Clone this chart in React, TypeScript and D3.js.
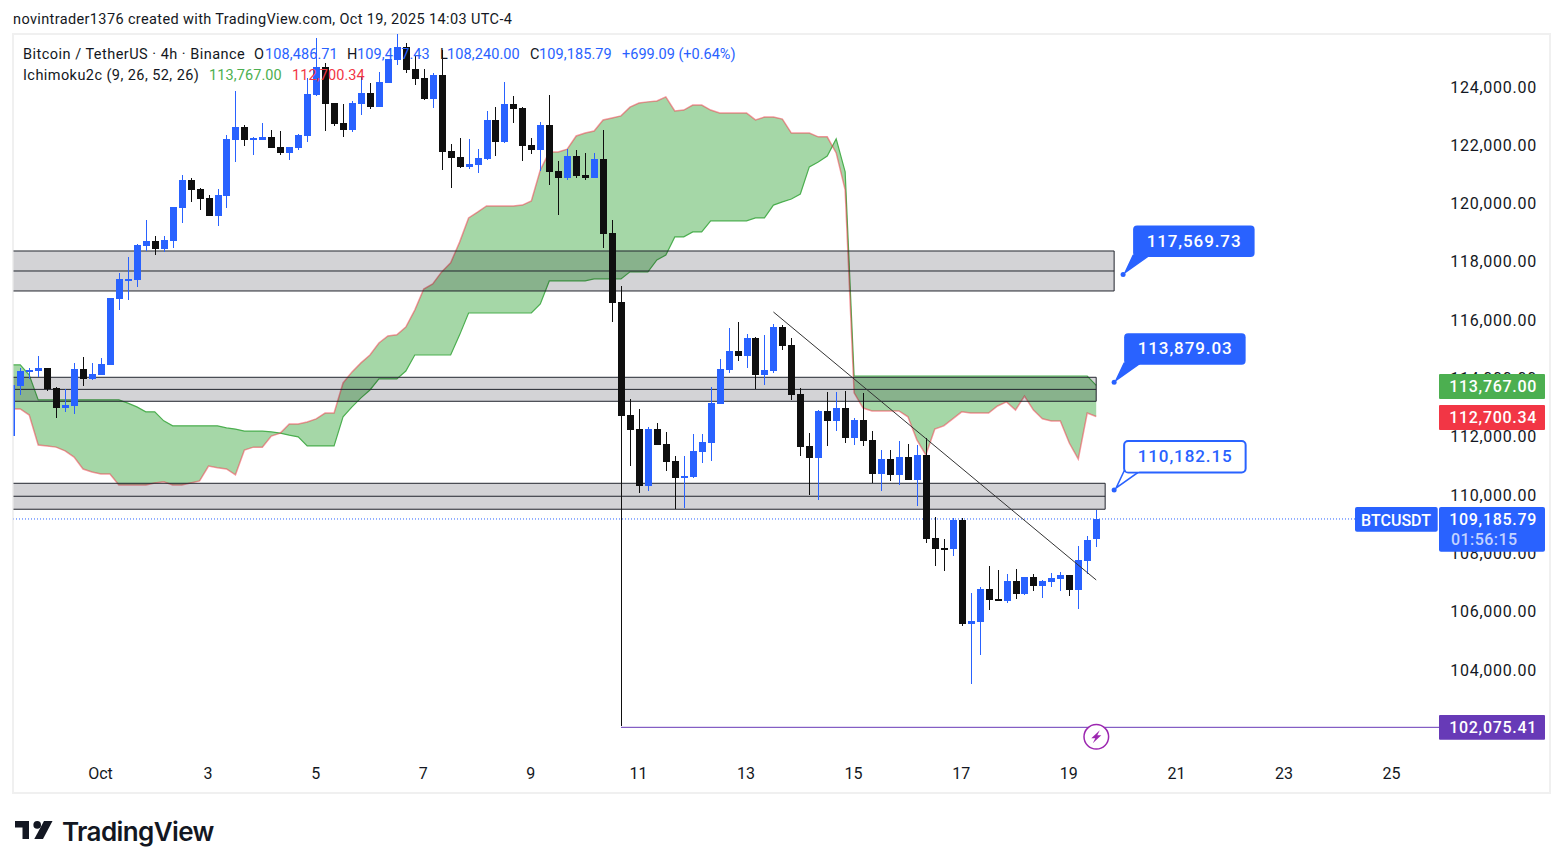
import React from 'react';
import * as d3 from 'd3';

// candle values, one entry per 4h bar
const opens = [
  112030, 113750, 114230, 114260, 114370, 113680, 112990, 113060, 114330, 113990, 114120,
  114470, 116730, 117380, 117380, 118550, 118720, 118440, 118720, 119850, 120810,
  120500, 120190, 119580, 120260, 122180, 122630, 122220, 122180, 122290, 121940,
  121740, 121910, 122320, 123730, 124690, 123450, 122770, 122530, 123420, 123790,
  123310, 124140, 124930, 125370, 124620, 124310, 123590, 124410, 121800, 121600,
  121260, 121330, 121530, 122870, 122110, 123420, 123280, 122010, 121840, 122700,
  121120, 120880, 121630, 120980, 120880, 121530, 118990, 116630, 112750, 112270,
  110320, 112270, 111760, 111170, 110630, 110630, 111480, 111790, 113130, 114300,
  114950, 114780, 115390, 114120, 114260, 115770, 115150, 113470, 111690, 111280,
  112890, 112550, 112990, 111960, 112580, 111900, 110730, 111240, 110700, 111310,
  110520, 111380, 108530, 108190, 108160, 109150, 105590, 105650, 106790, 106440,
  106370, 107060, 106610, 107200, 106890, 107020, 107130, 107270, 106750, 107750, 108486.71,
];
const highs = [
  113780, 114370, 114370, 114780, 114370, 113710, 113640, 114540, 114740, 114540, 114710,
  116770, 117620, 118170, 118620, 119440, 118890, 118890, 119880, 120980, 120880,
  120540, 120300, 120500, 122350, 123860, 122700, 122290, 122770, 122530, 122490,
  121940, 122390, 124310, 125680, 124820, 123450, 123420, 123520, 124340, 124140,
  124510, 124960, 125820, 125510, 125060, 124620, 124480, 125270, 122050, 122250,
  122220, 121870, 123180, 123310, 124170, 123690, 123310, 122250, 122800, 123730,
  121460, 121870, 121840, 121740, 121740, 122530, 119440, 117180, 113300, 112960,
  112340, 112480, 112170, 111340, 111340, 112100, 112100, 113710, 114670, 115740,
  115940, 115530, 115430, 115500, 115870, 115840, 115390, 113680, 112130, 112920,
  113540, 113540, 113580, 112650, 113510, 112200, 111550, 111550, 111860, 111760,
  111720, 111970, 109250, 108490, 109220, 109220, 106650, 106850, 107570, 107440,
  107300, 107470, 107200, 107300, 107090, 107330, 107370, 107270, 108260, 108600, 109487.43,
];
const lows = [
  112030, 113440, 113990, 114060, 113580, 112650, 112860, 112790, 113750, 113950, 114120,
  114470, 116350, 116700, 117140, 118380, 118240, 118340, 118480, 119340, 120060,
  119780, 119580, 119230, 119850, 121430, 121980, 121670, 122180, 121910, 121670,
  121500, 121840, 122110, 123690, 122490, 122660, 122290, 122460, 123040, 123250,
  123310, 124140, 124750, 124480, 124070, 123550, 123280, 121150, 120540, 121220,
  121190, 121050, 121500, 121630, 122080, 122770, 121460, 121700, 121120, 120640,
  119610, 120810, 120880, 120810, 120880, 118480, 115940, 102075.41, 111000, 110080,
  110150, 111720, 110830, 109530, 109560, 110590, 111100, 111170, 113130, 114190,
  114600, 114370, 113640, 113780, 114190, 114980, 113270, 111340, 110010, 109840,
  111690, 112200, 111790, 111720, 111690, 110420, 110150, 110490, 110350, 110520,
  109630, 108360, 107570, 107400, 107920, 105520, 103520, 104510, 106070, 106370,
  106300, 106440, 106580, 106720, 106480, 106850, 106700, 106550, 106100, 107300, 108240,
];
const closes = [
  113780, 114260, 114300, 114370, 113640, 112990, 113100, 114330, 113990, 114160, 114500,
  116770, 117420, 117420, 118580, 118720, 118440, 118750, 119880, 120810, 120470,
  120160, 119580, 120300, 122220, 122630, 122180, 122250, 122290, 121910, 121740,
  121940, 122350, 123760, 124690, 123420, 122730, 122530, 123450, 123790, 123310,
  124170, 124960, 125370, 124580, 124270, 123590, 124410, 121770, 121560, 121260,
  121360, 121560, 122870, 122110, 123420, 123250, 121980, 121840, 122700, 121090,
  120880, 121630, 120950, 120880, 121530, 118960, 116590, 112720, 112240, 110320,
  112270, 111720, 111140, 110590, 110660, 111520, 111830, 113160, 114330, 114950,
  114780, 115390, 114120, 114300, 115770, 115120, 113440, 111660, 111280, 112890,
  112550, 112990, 111960, 112580, 111860, 110730, 111240, 110700, 111310, 110520,
  111380, 108500, 108160, 108160, 109150, 105590, 105690, 106790, 106410, 106410,
  107060, 106610, 107200, 106890, 107060, 107160, 107270, 106750, 107780, 108470, 109185.79,
];

// ichimoku cloud edges
const spanA = [
  114470, 114470, 114120, 113270, 113270, 113270, 113270, 113270, 113270, 113270, 113270,
  113270, 113270, 113160, 113030, 112860, 112860, 112550, 112380, 112380, 112380,
  112380, 112380, 112380, 112310, 112270, 112200, 112200, 112200, 112170, 112130,
  112060, 112000, 111690, 111690, 111690, 111690, 112690, 113030, 113340, 113610,
  113990, 113990, 113990, 114260, 114810, 114810, 114810, 114810, 114810, 115500,
  116250, 116250, 116250, 116250, 116250, 116250, 116250, 116250, 116560, 117350,
  117350, 117350, 117350, 117350, 117420, 117420, 117420, 117420, 117660, 117660,
  117660, 118070, 118240, 118860, 118860, 119030, 119030, 119410, 119410, 119410,
  119410, 119410, 119510, 119510, 119950, 120060, 120160, 120330, 121260, 121430,
  121630, 122220, 121090, 114090, 114090, 114090, 114090, 114090, 114090, 114090,
  114090, 114090, 114090, 114090, 114090, 114090, 114090, 114090, 114090, 114090,
  114090, 114090, 114090, 114090, 114090, 114090, 114090, 114090, 114090, 114090, 113767,
];
const spanB = [
  112960, 112960, 112750, 111720, 111690, 111650, 111520, 111310, 110900, 110800, 110730,
  110730, 110350, 110350, 110350, 110350, 110420, 110460, 110350, 110350, 110420,
  110490, 111000, 110940, 110900, 110700, 111550, 111650, 111650, 112030, 112130,
  112440, 112440, 112510, 112620, 112820, 112820, 113850, 114230, 114540, 114810,
  115220, 115460, 115500, 115770, 116350, 117070, 117250, 117660, 117970, 118680,
  119510, 119710, 119920, 119920, 119920, 119920, 119950, 120090, 121150, 121770,
  121770, 121870, 122320, 122420, 122490, 122870, 122940, 123010, 123310, 123450,
  123490, 123520, 123660, 123180, 123210, 123380, 123380, 123210, 123110, 123110,
  123110, 123110, 122870, 122970, 122970, 122900, 122420, 122420, 122420, 122290,
  122290, 121740, 120470, 113510, 112990, 112890, 112890, 112890, 112890, 112690,
  111900, 111380, 112270, 112380, 112620, 112860, 112820, 112820, 112820, 113060,
  113200, 112920, 113400, 112920, 112620, 112550, 112550, 111790, 111240, 112820, 112700.34,
];

// drawn zones: top, middle, bottom price and the bar index where they end
const zoneTops = [118376, 114045, 110410];
const zoneMids = [117690, 113630, 109965];
const zoneBottoms = [117005, 113222, 109520];
const zoneEnds = [123, 121, 122];

const callouts = [117569.73, 113879.03, 110182.15];
const calloutBars = [124, 123, 123];

const priceTicks = [124000, 122000, 120000, 118000, 116000, 114000, 112000, 110000, 108000, 106000, 104000];
const dateLabels = ['Oct', '3', '5', '7', '9', '11', '13', '15', '17', '19', '21', '23', '25'];
const dateBars = [10, 22, 34, 46, 58, 70, 82, 94, 106, 118, 130, 142, 154];

const trendBars = [85, 121];
const trendPrices = [116284, 107095];

const lastPrice = 109185.79;
const ichiA = 113767.0;
const ichiB = 112700.34;
const flashLow = 102075.41;
const flashBar = 68;

const W = 1563;
const H = 868;
const BLUE = '#2962ff';
const INK = '#131722';
const FONT = "Roboto, 'Noto Sans', sans-serif";

const x = d3.scaleLinear().domain([0, 121]).range([11.3, 1096.2]);
const y = d3.scaleLinear().domain([124000, 104000]).range([87, 670.2]);
const fmt = d3.format(',.2f');

const bars = d3.range(opens.length);

const cloud = d3
  .area<number>()
  .x((i) => x(i))
  .y0((i) => y(spanA[i]))
  .y1((i) => y(spanB[i]));
const lineA = d3.line<number>().x((i) => x(i)).y((i) => y(spanA[i]));
const lineB = d3.line<number>().x((i) => x(i)).y((i) => y(spanB[i]));

const Txt: React.FC<any> = ({ children, ...p }) => (
  <text fontFamily={FONT} dominantBaseline="central" {...p}>
    {children}
  </text>
);

export default function App() {
  const right = 1439;
  const lastY = y(lastPrice);
  const lowY = y(flashLow) + 1;
  const trendX = trendBars.map((b) => x(b));
  const trendY = trendPrices.map((p) => y(p));

  return (
    <svg width={W} height={H} style={{ position: 'absolute', left: 0, top: 0, background: '#fff' }}>
      <defs>
        <clipPath id="plot">
          <rect x={13.5} y={34} width={right - 13.5} height={759} />
        </clipPath>
      </defs>

      <Txt x={13} y={19.5} fontSize={14.5} fill={INK} letterSpacing={0.37}>
        novintrader1376 created with TradingView.com, Oct 19, 2025 14:03 UTC-4
      </Txt>

      <rect x={13} y={34} width={1537} height={759} fill="none" stroke="#f0f0f0" strokeWidth={2} />

      {/* price axis */}
      {priceTicks.map((t) => (
        <Txt key={t} x={1537} y={y(t)} fontSize={16} fill={INK} textAnchor="end" letterSpacing={0.75}>
          {fmt(t)}
        </Txt>
      ))}

      {/* date axis */}
      {dateLabels.map((d, i) => (
        <Txt key={d} x={x(dateBars[i]) - 0.5} y={773} fontSize={16} fill={INK} textAnchor="middle">
          {d}
        </Txt>
      ))}

      <g clipPath="url(#plot)">
        <path d={cloud(bars) ?? ''} fill="#4caf50" fillOpacity={0.5} />
        <path d={lineA(bars) ?? ''} fill="none" stroke="#4caf50" strokeWidth={1.2} />
        <path d={lineB(bars) ?? ''} fill="none" stroke="#f23645" strokeOpacity={0.5} strokeWidth={1.5} />

        {/* zones */}
        {zoneTops.map((top, i) => (
          <g key={top}>
            <rect
              x={0}
              y={y(top)}
              width={x(zoneEnds[i])}
              height={y(zoneBottoms[i]) - y(top)}
              fill="#d3d3d6"
              stroke="none"
              style={{ mixBlendMode: 'multiply' }}
            />
            <path
              d={`M0,${y(top)}H${x(zoneEnds[i])}V${y(zoneBottoms[i])}H0`}
              fill="none"
              stroke="#22252e"
              strokeWidth={1}
            />
            <line x1={0} x2={x(zoneEnds[i])} y1={y(zoneMids[i])} y2={y(zoneMids[i])} stroke="#22252e" strokeWidth={1} />
          </g>
        ))}

        {/* last price line */}
        <line x1={13} x2={1355} y1={lastY} y2={lastY} stroke={BLUE} strokeWidth={1} strokeDasharray="1 2" />

        {/* candles */}
        {bars.map((i) => {
          const up = closes[i] >= opens[i];
          const color = up ? BLUE : '#0f0f0f';
          const cx = Math.round(x(i));
          const top = y(Math.max(opens[i], closes[i]));
          const bottom = y(Math.min(opens[i], closes[i]));
          return (
            <g key={i} fill={color} stroke="none" shapeRendering="crispEdges">
              <rect x={cx} y={y(highs[i])} width={1} height={y(lows[i]) - y(highs[i])} />
              <rect x={cx - 3} y={top} width={7} height={Math.max(bottom - top, 2)} />
            </g>
          );
        })}

        {/* trend line */}
        <line x1={trendX[0]} y1={trendY[0]} x2={trendX[1]} y2={trendY[1]} stroke="#333" strokeWidth={1} />

        {/* low marker line */}
        <line x1={x(flashBar)} x2={right} y1={lowY} y2={lowY} stroke="#673ab7" strokeWidth={1} />
      </g>

      {/* legend */}
      <g>
        <Txt x={23} y={54} fontSize={14.5} fill={INK} letterSpacing={0.48}>
          Bitcoin / TetherUS · 4h · Binance
        </Txt>
        {[
          ['O', 254, '108,486.71', 265],
          ['H', 347, '109,487.43', 357],
          ['L', 440, '108,240.00', 447],
          ['C', 530, '109,185.79', 539],
        ].map(([k, kx, v, vx]) => (
          <React.Fragment key={k as string}>
            <Txt x={kx} y={54} fontSize={14.5} fill={INK}>
              {k}
            </Txt>
            <Txt x={vx} y={54} fontSize={14.5} fill={BLUE} letterSpacing={0.1}>
              {v}
            </Txt>
          </React.Fragment>
        ))}
        <Txt x={622} y={54} fontSize={14.5} fill={BLUE}>
          +699.09 (+0.64%)
        </Txt>
        <Txt x={23} y={75} fontSize={14.5} fill={INK} letterSpacing={0.43}>
          Ichimoku2c (9, 26, 52, 26)
        </Txt>
        <Txt x={209} y={75} fontSize={14.5} fill="#4caf50" letterSpacing={0.1}>
          {fmt(ichiA)}
        </Txt>
        <Txt x={292} y={75} fontSize={14.5} fill="#f23645" letterSpacing={0.1}>
          {fmt(ichiB)}
        </Txt>
      </g>

      {/* price callouts */}
      {callouts.map((p, i) => {
        const ax = x(calloutBars[i]);
        const ay = y(p);
        const bx = ax + 10;
        const by = ay - 49;
        const hollow = i === 2;
        return (
          <g key={p}>
            <circle cx={ax} cy={ay} r={2.5} fill={BLUE} />
            <path
              d={`M${ax + 2},${ay - 2}L${bx},${by + 30}H${bx + 16}Z`}
              fill={hollow ? '#fff' : BLUE}
              stroke={BLUE}
              strokeWidth={1.5}
            />
            <rect
              x={bx}
              y={by}
              width={121.5}
              height={31.5}
              rx={4}
              fill={hollow ? '#fff' : BLUE}
              stroke={hollow ? BLUE : 'none'}
              strokeWidth={2}
            />
            {hollow && <rect x={bx + 2} y={by + 27} width={13} height={3.5} fill="#fff" />}
            <Txt x={bx + 61} y={by + 15} fontSize={17} fontWeight={500} fill={hollow ? BLUE : '#fff'} textAnchor="middle" letterSpacing={0.9}>
              {fmt(p)}
            </Txt>
          </g>
        );
      })}

      {/* right side labels */}
      <rect x={1355} y={507} width={82.7} height={24.7} rx={2} fill={BLUE} />
      <Txt x={1396} y={520} fontSize={16} fill="#fff" textAnchor="middle" fontWeight={500}>
        BTCUSDT
      </Txt>
      <rect x={right} y={507} width={106} height={44.7} rx={2} fill={BLUE} />
      <Txt x={1537} y={519} fontSize={16} fill="#fff" textAnchor="end" fontWeight={500} letterSpacing={0.7}>
        {fmt(lastPrice)}
      </Txt>
      <Txt x={1451} y={539} fontSize={16} fill="#c3d3ff" fontWeight={500} letterSpacing={0.45}>
        01:56:15
      </Txt>
      <rect x={right} y={374} width={106} height={25} rx={1} fill="#4caf50" />
      <Txt x={1537} y={386} fontSize={16} fill="#fff" textAnchor="end" fontWeight={500} letterSpacing={0.7}>
        {fmt(ichiA)}
      </Txt>
      <rect x={right} y={405} width={106} height={25} rx={1} fill="#f23645" />
      <Txt x={1537} y={417.5} fontSize={16} fill="#fff" textAnchor="end" fontWeight={500} letterSpacing={0.7}>
        {fmt(ichiB)}
      </Txt>
      <rect x={right} y={715} width={106} height={24.7} rx={1} fill="#673ab7" />
      <Txt x={1537} y={727} fontSize={16} fill="#fff" textAnchor="end" fontWeight={500} letterSpacing={0.7}>
        {fmt(flashLow)}
      </Txt>

      {/* flash marker */}
      <g transform="translate(1096.3,736.8)">
        <circle r={12.3} fill="#fff" stroke="#9c27b0" strokeWidth={1.5} />
        <path d="M3.5,-6.5L-5,1.5H-1L-3.5,6.5L5,-1.5H1Z" fill="#9c27b0" />
      </g>

      {/* logo */}
      <g fill={INK}>
        <path d="M15,821H29V839H22.5V827.5H15Z" />
        <circle cx={37.2} cy={824.9} r={3.8} />
        <path d="M44,821H52.5L43,839H34.3Z" />
      </g>
      <Txt x={62} y={831} fontSize={26} fontWeight={600} fill={INK} style={{ fontFamily: 'Inter' }} letterSpacing={-0.6}>
        TradingView
      </Txt>
    </svg>
  );
}
